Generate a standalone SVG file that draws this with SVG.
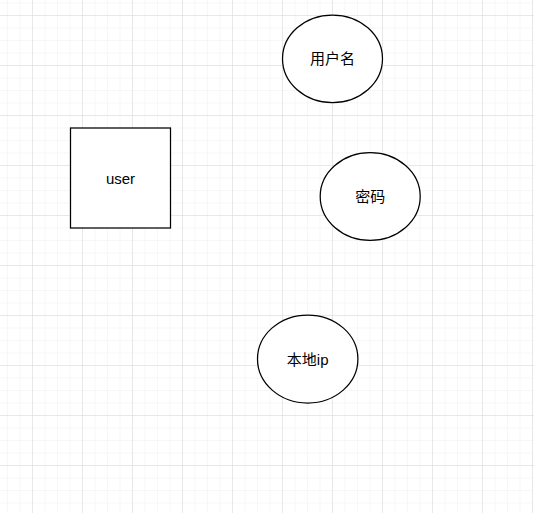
<svg xmlns="http://www.w3.org/2000/svg" width="534" height="513" viewBox="0 0 534 513">
<defs>
<pattern id="minor" x="7" y="2.5" width="12.5" height="12.5" patternUnits="userSpaceOnUse">
<path d="M0 0H12.5M0 0V12.5" fill="none" stroke="#f0f0f0" stroke-width="1"/>
</pattern>
<pattern id="major" x="32" y="15" width="50" height="50" patternUnits="userSpaceOnUse">
<path d="M0 0H50M0 0V50" fill="none" stroke="#d9d9d9" stroke-width="1"/>
</pattern>
</defs>
<style>
.shape{fill:#ffffff;stroke:#000000;stroke-width:1.25}
.lbl{font-family:"Liberation Sans","Noto Sans CJK SC",sans-serif;font-size:15px;fill:#000000;text-anchor:middle;dominant-baseline:central}
</style>
<rect width="534" height="513" fill="#ffffff"/>
<rect width="534" height="513" fill="url(#minor)"/>
<rect width="534" height="513" fill="url(#major)"/>
<g id="connectors"></g>
<g id="node-user">
<rect class="shape" x="70.5" y="128" width="100" height="100"/>
<text class="lbl" x="120.5" y="178">user</text>
</g>
<g id="node-username">
<ellipse class="shape" cx="332.5" cy="58.8" rx="50" ry="43.8"/>
<text class="lbl" x="332.5" y="58.8">用户名</text>
</g>
<g id="node-password">
<ellipse class="shape" cx="370.2" cy="196.5" rx="50" ry="43.8"/>
<text class="lbl" x="370.2" y="196.5">密码</text>
</g>
<g id="node-localip">
<ellipse class="shape" cx="307.7" cy="359" rx="50.2" ry="44"/>
<text class="lbl" x="307.7" y="359">本地ip</text>
</g>
</svg>
